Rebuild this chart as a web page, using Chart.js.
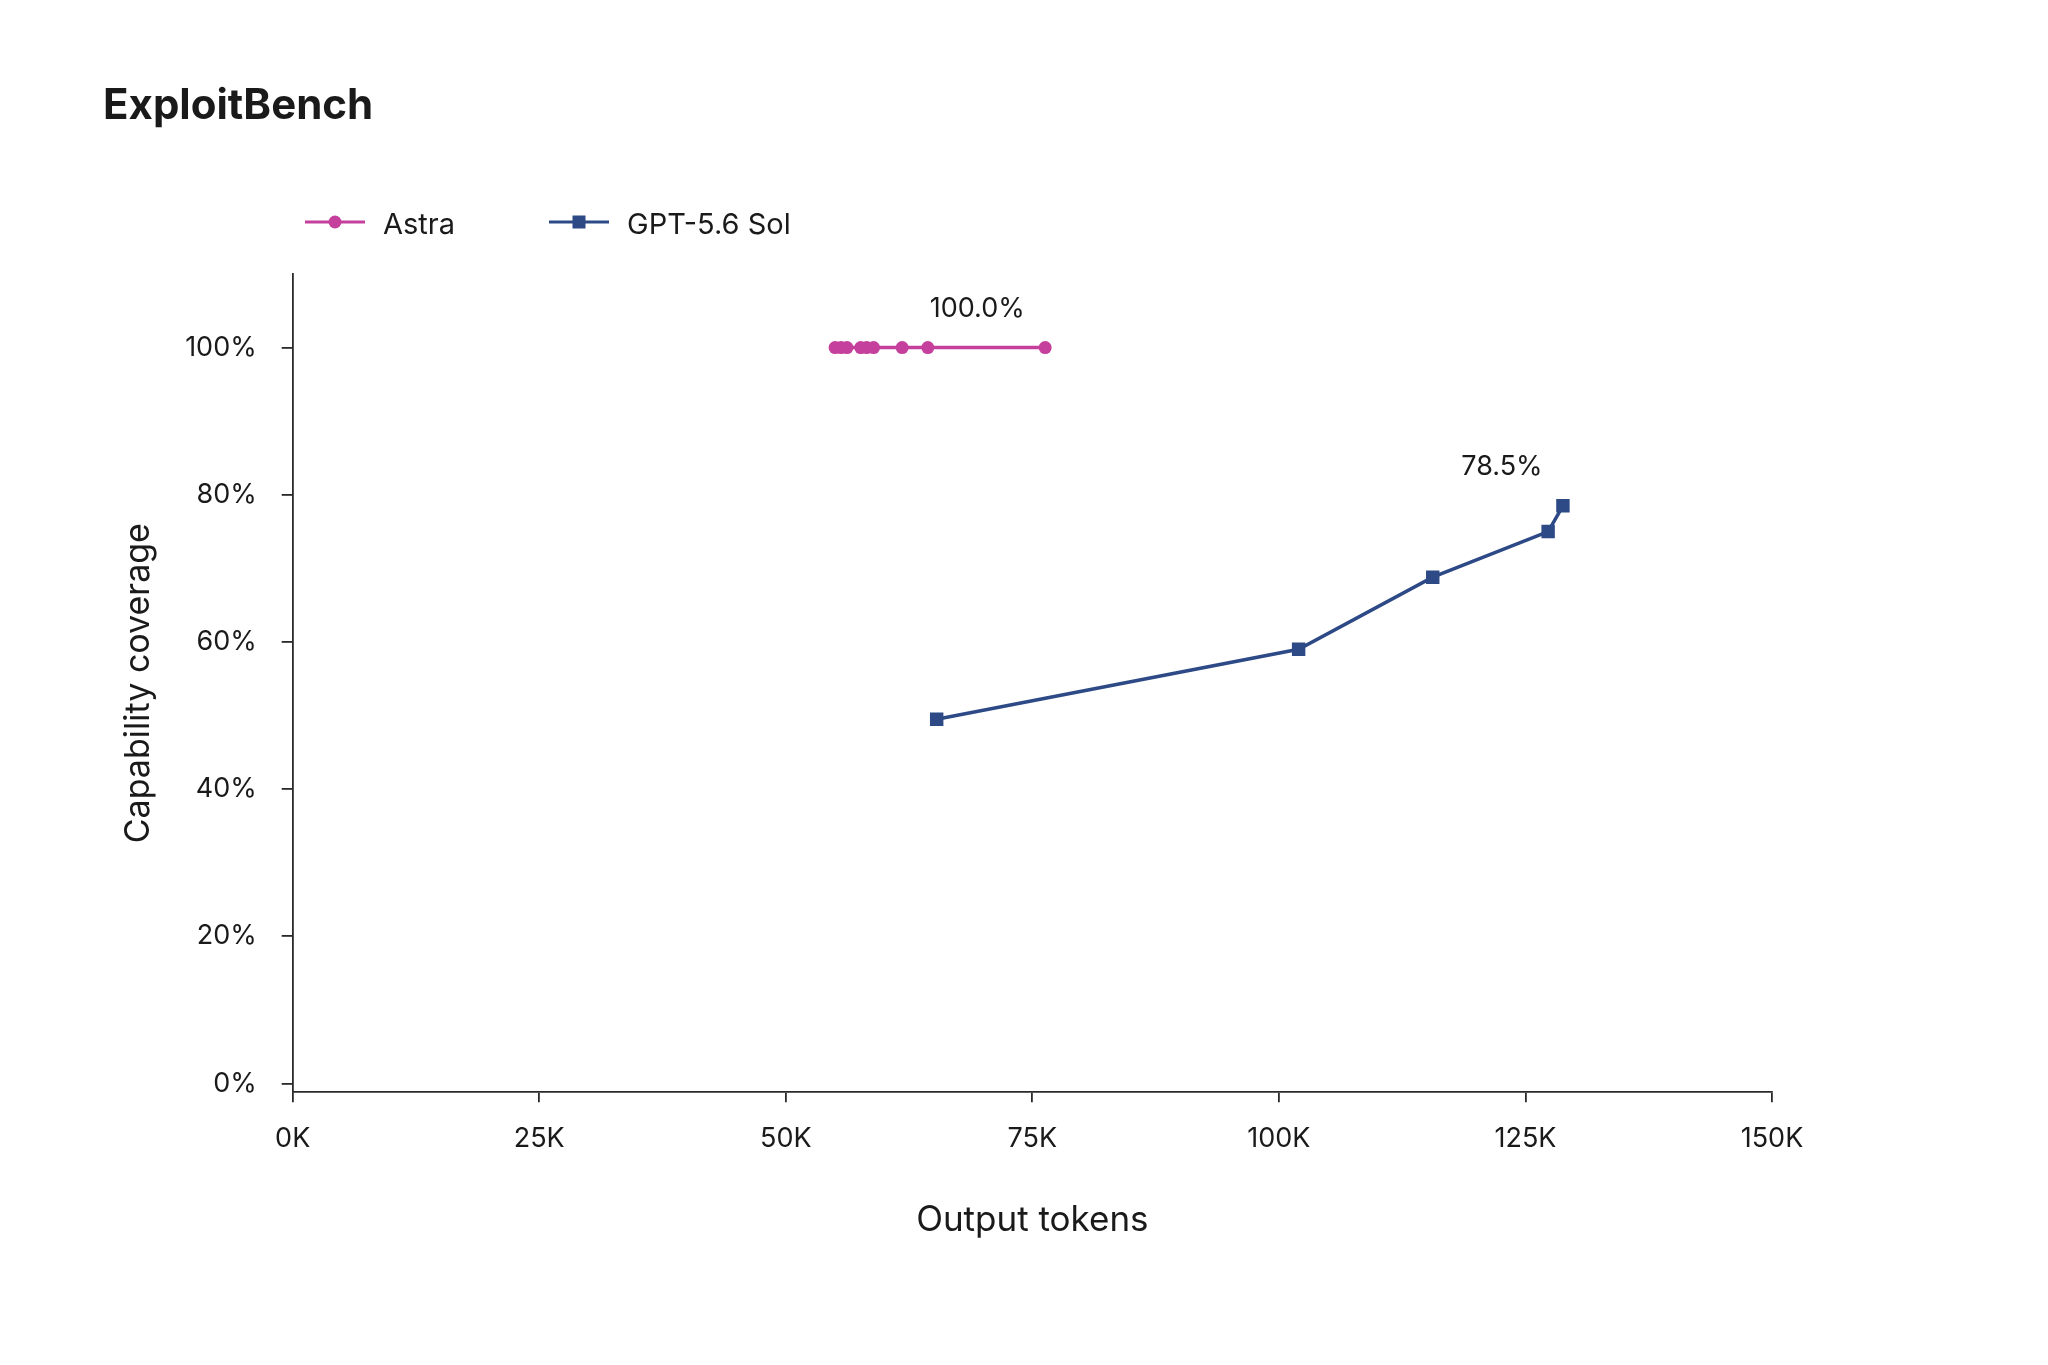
<!DOCTYPE html>
<html>
<head>
<meta charset="utf-8">
<script src="https://cdn.jsdelivr.net/npm/chart.js@4.4.1/dist/chart.umd.min.js"></script>
<style>
  html, body { margin: 0; padding: 0; background: #fff; }
  #wrap { width: 2048px; height: 1365px; }
</style>
</head>
<body>
<div id="wrap"><canvas id="myChart" width="2048" height="1365"></canvas></div>
<script>
const seriesNames = ['Astra', 'GPT-5.6 Sol'];
const astraTokens = [55000, 55600, 56200, 57600, 58200, 58900, 61800, 64400, 76300];
const astraCoverage = [100, 100, 100, 100, 100, 100, 100, 100, 100];
const solTokens = [65300, 102000, 115600, 127300, 128800];
const solCoverage = [49.5, 59.0, 68.8, 75.0, 78.5];
const xTicks = [0, 25000, 50000, 75000, 100000, 125000, 150000];
const yTicks = [0, 20, 40, 60, 80, 100];

const FONT = 'Inter, "Noto Sans", "DejaVu Sans", sans-serif';
const TEXT = '#1a1a1a';
const colors = ['#c4409c', '#2d4a87'];

function toPoints(xs, ys) {
  return xs.map((x, i) => ({ x: x, y: ys[i] }));
}

// title, legend and end-of-line value labels
const decorPlugin = {
  id: 'decor',
  afterDraw(chart, args, opts) {
    const ctx = chart.ctx;
    ctx.save();

    ctx.fillStyle = TEXT;
    ctx.font = 'bold 42px ' + FONT;
    ctx.textAlign = 'left';
    ctx.textBaseline = 'alphabetic';
    ctx.fillText(opts.title, 103, 119);

    // legend
    ctx.font = '29px ' + FONT;
    ctx.textBaseline = 'middle';
    opts.legendX.forEach((lx, i) => {
      const ds = chart.data.datasets[i];
      const y = 222;
      ctx.strokeStyle = ds.borderColor;
      ctx.lineWidth = 3;
      ctx.beginPath();
      ctx.moveTo(lx, y);
      ctx.lineTo(lx + 60, y);
      ctx.stroke();
      ctx.fillStyle = ds.borderColor;
      if (ds.pointStyle === 'rect') {
        ctx.fillRect(lx + 30 - 6.5, y - 6.5, 13, 13);
      } else {
        ctx.beginPath();
        ctx.arc(lx + 30, y, 6.5, 0, Math.PI * 2);
        ctx.fill();
      }
      ctx.fillStyle = TEXT;
      ctx.fillText(ds.label, lx + 78, y + 3);
    });

    // value labels at the last point of each series
    ctx.font = '27px ' + FONT;
    ctx.textAlign = 'center';
    ctx.textBaseline = 'alphabetic';
    opts.valueDx.forEach((dx, i) => {
      const meta = chart.getDatasetMeta(i);
      const pt = meta.data[meta.data.length - 1];
      const raw = chart.data.datasets[i].data[meta.data.length - 1];
      ctx.fillStyle = TEXT;
      ctx.fillText(raw.y.toFixed(1) + '%', pt.x + dx, pt.y - 31);
    });

    ctx.restore();
  }
};

const ctx = document.getElementById('myChart').getContext('2d');

new Chart(ctx, {
  type: 'line',
  data: {
    datasets: [
      {
        label: seriesNames[0],
        data: toPoints(astraTokens, astraCoverage),
        borderColor: colors[0],
        backgroundColor: colors[0],
        borderWidth: 3.5,
        pointStyle: 'circle',
        pointRadius: 6.5,
        pointBorderWidth: 0,
      },
      {
        label: seriesNames[1],
        data: toPoints(solTokens, solCoverage),
        borderColor: colors[1],
        backgroundColor: colors[1],
        borderWidth: 3.5,
        pointStyle: 'rect',
        pointRadius: 9.5,
        pointBorderWidth: 0,
      },
    ],
  },
  options: {
    responsive: false,
    devicePixelRatio: 1,
    animation: false,
    layout: { padding: { left: 0, right: 276, top: 274, bottom: 0 } },
    scales: {
      x: {
        type: 'linear',
        min: 0,
        max: 150000,
        afterBuildTicks: (scale) => { scale.ticks = xTicks.map(v => ({ value: v })); },
        afterFit: (scale) => { scale.height = 272.7; },
        ticks: {
          color: TEXT,
          font: { family: FONT, size: 27 },
          padding: 20,
          maxRotation: 0,
          callback: (v) => (v / 1000) + 'K',
        },
        grid: { drawOnChartArea: false, drawTicks: true, tickLength: 10, color: '#2a2a2a', lineWidth: 1.8 },
        border: { display: true, color: '#2a2a2a', width: 1.8 },
        title: {
          display: true,
          text: 'Output tokens',
          color: TEXT,
          font: { family: FONT, size: 35 },
          padding: { top: 0, bottom: 124 },
        },
      },
      y: {
        min: -1.2,
        max: 110,
        afterBuildTicks: (scale) => { scale.ticks = yTicks.map(v => ({ value: v })); },
        afterFit: (scale) => { scale.width = 292.7; },
        ticks: {
          color: TEXT,
          font: { family: FONT, size: 27 },
          padding: 25,
          callback: (v) => v + '%',
        },
        grid: { drawOnChartArea: false, drawTicks: true, tickLength: 11, color: '#2a2a2a', lineWidth: 1.8 },
        border: { display: true, color: '#2a2a2a', width: 1.8 },
        title: {
          display: true,
          text: 'Capability coverage',
          color: TEXT,
          font: { family: FONT, size: 34 },
          padding: { top: 118, bottom: 0 },
        },
      },
    },
    plugins: {
      legend: { display: false },
      title: { display: false },
      tooltip: { enabled: false },
      decor: {
        title: 'ExploitBench',
        legendX: [305, 549],
        valueDx: [-68, -61],
      },
    },
  },
  plugins: [decorPlugin],
});
</script>
</body>
</html>
